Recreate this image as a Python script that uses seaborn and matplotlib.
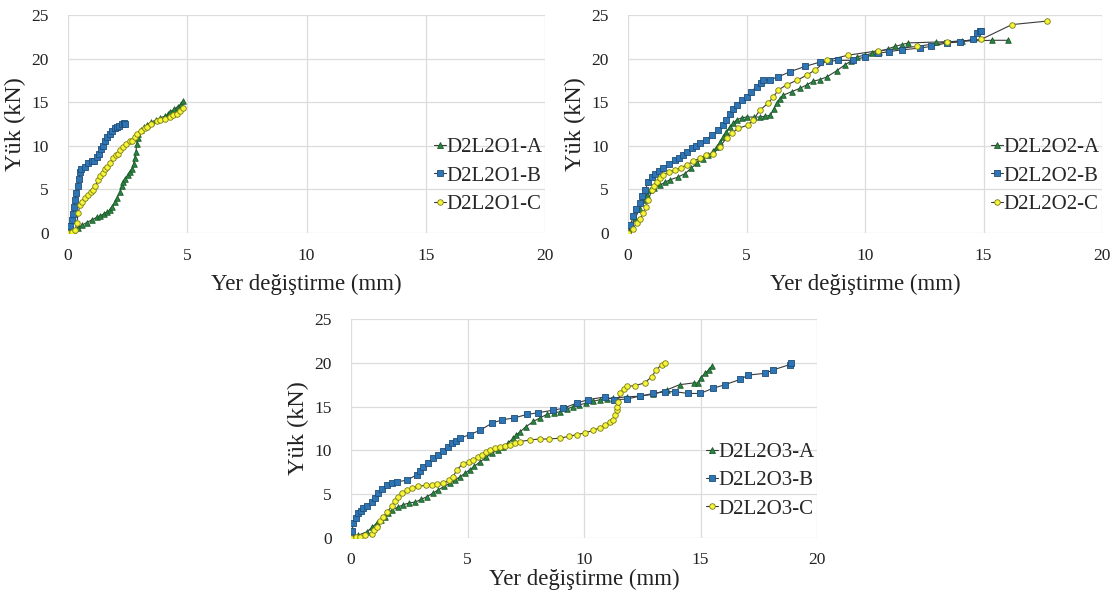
import numpy as np
import pandas as pd
import matplotlib
matplotlib.use("Agg")
import matplotlib.pyplot as plt
from matplotlib.lines import Line2D
import seaborn as sns

# ---------------- data ----------------
x_ticks = [0, 5, 10, 15, 20]
y_ticks = [0, 5, 10, 15, 20, 25]
x_label = "Yer değiştirme (mm)"
y_label = "Yük (kN)"

labels_1 = ["D2L2O1-A", "D2L2O1-B", "D2L2O1-C"]
labels_2 = ["D2L2O2-A", "D2L2O2-B", "D2L2O2-C"]
labels_3 = ["D2L2O3-A", "D2L2O3-B", "D2L2O3-C"]

A1_x = [0, 0.2, 0.4, 0.6, 0.78, 1.0, 1.2, 1.34, 1.5, 1.65, 1.76, 1.85, 1.97, 2.05, 2.18, 2.25, 2.32, 2.4, 2.5, 2.6, 2.67, 2.75, 2.8, 2.85, 2.88, 2.92, 2.95, 3.05, 3.2, 3.3, 3.5, 3.7, 3.87, 4.05, 4.2, 4.29, 4.45, 4.6, 4.75, 4.84]
A1_y = [0, 0.3, 0.6, 0.9, 1.2, 1.5, 1.8, 1.95, 2.2, 2.45, 2.6, 3.0, 3.5, 4.0, 4.7, 5.4, 5.9, 6.2, 6.6, 7.0, 7.3, 7.9, 8.6, 9.3, 10.2, 10.9, 11.4, 11.8, 12.1, 12.4, 12.7, 13.0, 13.2, 13.4, 13.6, 13.9, 14.2, 14.5, 14.8, 15.1]
B1_x = [0, 0.05, 0.1, 0.15, 0.2, 0.25, 0.3, 0.35, 0.4, 0.45, 0.5, 0.55, 0.7, 0.85, 1.0, 1.1, 1.2, 1.3, 1.4, 1.45, 1.55, 1.65, 1.75, 1.85, 1.95, 2.05, 2.15, 2.25, 2.35, 2.4]
B1_y = [0, 0.3, 0.8, 1.5, 2.2, 3.0, 3.8, 4.6, 5.4, 6.2, 7.0, 7.3, 7.6, 8.0, 8.2, 8.3, 8.7, 9.1, 9.6, 10.0, 10.5, 11.0, 11.3, 11.7, 12.0, 12.2, 12.3, 12.5, 12.6, 12.5]
C1_x = [0, 0.15, 0.3, 0.37, 0.43, 0.5, 0.57, 0.7, 0.85, 0.95, 1.06, 1.15, 1.27, 1.34, 1.45, 1.55, 1.63, 1.76, 1.9, 2.0, 2.1, 2.18, 2.3, 2.45, 2.6, 2.67, 2.8, 2.9, 3.05, 3.23, 3.3, 3.5, 3.72, 3.87, 4.05, 4.29, 4.4, 4.55, 4.7, 4.84]
C1_y = [0, 0.1, 0.3, 1.2, 2.3, 3.2, 3.6, 4.0, 4.4, 4.7, 4.9, 5.4, 6.1, 6.5, 6.9, 7.3, 7.6, 8.0, 8.6, 8.9, 9.1, 9.5, 9.9, 10.2, 10.5, 10.6, 11.0, 11.4, 11.7, 12.0, 12.2, 12.5, 12.8, 13.0, 13.1, 13.3, 13.5, 13.7, 14.0, 14.3]

A2_x = [0, 0.15, 0.3, 0.5, 0.65, 0.8, 0.93, 1.1, 1.35, 1.55, 1.77, 2.1, 2.4, 2.65, 2.9, 3.15, 3.39, 3.6, 3.74, 3.9, 4.02, 4.15, 4.3, 4.45, 4.59, 4.8, 5.0, 5.3, 5.57, 5.8, 6.0, 6.15, 6.27, 6.4, 6.55, 6.9, 7.26, 7.55, 7.82, 8.1, 8.39, 8.8, 9.16, 9.4, 9.66, 10.0, 10.3, 10.6, 10.95, 11.27, 11.55, 11.83, 13.0, 14.1, 15.35, 16.05]
A2_y = [0, 0.8, 1.7, 2.8, 3.8, 4.4, 4.9, 5.2, 5.5, 5.8, 6.1, 6.4, 6.8, 7.4, 8.0, 8.5, 8.9, 9.4, 9.9, 10.4, 11.0, 11.6, 12.2, 12.6, 13.0, 13.2, 13.3, 13.3, 13.3, 13.4, 13.5, 14.2, 14.9, 15.4, 15.8, 16.2, 16.6, 17.0, 17.4, 17.6, 17.9, 18.6, 19.3, 19.7, 20.2, 20.4, 20.6, 20.8, 21.1, 21.4, 21.6, 21.8, 21.9, 22.0, 22.1, 22.1]
B2_x = [0, 0.1, 0.22, 0.35, 0.5, 0.6, 0.72, 0.86, 1.0, 1.14, 1.3, 1.49, 1.75, 1.98, 2.15, 2.33, 2.5, 2.69, 2.85, 3.04, 3.3, 3.53, 3.8, 4.02, 4.15, 4.3, 4.45, 4.59, 4.8, 5.0, 5.2, 5.43, 5.6, 5.71, 6.0, 6.34, 6.84, 7.47, 8.1, 8.5, 8.87, 9.5, 10.0, 10.56, 11.0, 11.55, 12.3, 12.8, 13.45, 14.0, 14.57, 14.71, 14.85, 14.9]
B2_y = [0, 0.9, 1.9, 2.7, 3.4, 4.2, 4.9, 5.9, 6.4, 6.8, 7.1, 7.4, 7.9, 8.4, 8.6, 8.9, 9.3, 9.7, 10.0, 10.3, 10.7, 11.2, 11.8, 12.4, 13.0, 13.7, 14.2, 14.7, 15.2, 15.6, 16.2, 16.8, 17.2, 17.5, 17.6, 17.9, 18.5, 19.1, 19.6, 19.7, 19.8, 19.8, 20.2, 20.6, 20.8, 21.0, 21.2, 21.4, 21.8, 21.9, 22.2, 22.9, 23.2, 23.2]
C2_x = [0, 0.2, 0.37, 0.5, 0.65, 0.75, 0.86, 1.0, 1.1, 1.21, 1.35, 1.49, 1.75, 1.98, 2.25, 2.48, 2.75, 3.04, 3.3, 3.6, 3.88, 4.16, 4.4, 4.65, 5.08, 5.29, 5.57, 5.92, 6.13, 6.34, 6.7, 7.12, 7.54, 7.9, 8.39, 9.3, 10.56, 12.2, 13.45, 14.9, 16.2, 17.67]
C2_y = [0, 0.5, 1.1, 1.6, 2.3, 3.0, 3.8, 4.9, 5.4, 5.9, 6.3, 6.7, 7.0, 7.2, 7.5, 7.8, 8.2, 8.6, 8.9, 9.1, 9.9, 10.9, 11.5, 12.0, 12.4, 13.0, 14.1, 14.9, 15.6, 16.4, 17.0, 17.5, 18.1, 18.7, 19.8, 20.4, 20.9, 21.4, 21.9, 22.2, 23.9, 24.3]

A3_x = [0, 0.3, 0.67, 0.9, 1.1, 1.3, 1.46, 1.6, 1.75, 2.0, 2.24, 2.5, 2.75, 3.0, 3.25, 3.5, 3.75, 4.0, 4.25, 4.45, 4.68, 4.9, 5.1, 5.3, 5.54, 5.8, 6.04, 6.3, 6.54, 6.75, 6.97, 7.1, 7.25, 7.5, 7.83, 8.1, 8.4, 8.7, 8.97, 9.25, 9.54, 9.8, 10.1, 10.4, 10.7, 11.0, 11.26, 11.83, 12.4, 12.97, 13.55, 14.1, 14.7, 14.9, 15.0, 15.2, 15.35, 15.48]
A3_y = [0, 0.3, 0.7, 1.2, 1.7, 2.0, 2.4, 2.8, 3.2, 3.5, 3.8, 4.0, 4.1, 4.4, 4.7, 5.1, 5.5, 5.9, 6.25, 6.6, 7.0, 7.4, 7.8, 8.2, 8.7, 9.2, 9.7, 10.0, 10.4, 10.9, 11.4, 11.8, 12.1, 12.7, 13.3, 13.7, 14.1, 14.3, 14.4, 14.7, 15.0, 15.2, 15.4, 15.6, 15.8, 15.9, 16.0, 16.1, 16.2, 16.4, 16.9, 17.5, 17.7, 17.7, 18.3, 18.8, 19.2, 19.6]
B3_x = [0, 0.05, 0.1, 0.2, 0.31, 0.42, 0.53, 0.7, 0.89, 1.03, 1.17, 1.35, 1.53, 1.75, 1.96, 2.39, 2.82, 2.95, 3.1, 3.3, 3.53, 3.75, 3.96, 4.15, 4.32, 4.5, 4.68, 5.1, 5.54, 6.04, 6.5, 7.0, 7.54, 8.04, 8.68, 9.1, 9.69, 10.18, 10.9, 11.3, 11.83, 12.4, 12.97, 13.48, 13.9, 14.48, 14.98, 15.55, 16.05, 16.7, 17.05, 17.77, 18.13, 18.84, 18.9]
B3_y = [0, 0.8, 1.7, 2.3, 2.8, 3.1, 3.4, 3.7, 4.1, 4.6, 5.1, 5.6, 6.1, 6.3, 6.4, 6.6, 7.2, 7.6, 8.1, 8.6, 9.1, 9.5, 9.9, 10.4, 10.8, 11.1, 11.4, 11.8, 12.3, 13.1, 13.5, 13.7, 14.1, 14.3, 14.6, 14.8, 15.4, 15.8, 16.1, 15.8, 15.85, 16.2, 16.5, 16.7, 16.7, 16.5, 16.5, 17.1, 17.5, 18.1, 18.6, 18.8, 19.2, 19.8, 20.0]
C3_x = [0, 0.2, 0.39, 0.6, 0.89, 1.0, 1.1, 1.25, 1.39, 1.55, 1.75, 1.9, 2.03, 2.2, 2.39, 2.6, 2.89, 3.2, 3.46, 3.7, 3.96, 4.2, 4.39, 4.54, 4.82, 5.05, 5.25, 5.45, 5.61, 5.8, 5.97, 6.2, 6.4, 6.6, 6.82, 7.05, 7.25, 7.7, 8.1, 8.5, 8.97, 9.35, 9.69, 10.05, 10.4, 10.7, 10.9, 11.1, 11.26, 11.35, 11.4, 11.42, 11.45, 11.55, 11.7, 11.83, 12.2, 12.6, 12.9, 13.1, 13.33, 13.48]
C3_y = [0, 0.1, 0.15, 0.3, 0.5, 0.9, 1.3, 1.9, 2.4, 3.0, 3.6, 4.2, 4.7, 5.1, 5.5, 5.7, 5.9, 6.0, 6.1, 6.2, 6.25, 6.6, 7.0, 7.8, 8.5, 8.7, 8.9, 9.2, 9.5, 9.8, 10.1, 10.3, 10.4, 10.5, 10.6, 10.8, 11.0, 11.2, 11.3, 11.3, 11.4, 11.6, 11.8, 12.0, 12.3, 12.6, 12.9, 13.2, 13.5, 14.0, 14.6, 15.0, 15.5, 16.5, 17.0, 17.3, 17.4, 17.7, 18.4, 19.2, 19.8, 20.0]

# ---------------- style ----------------
sns.set_theme(style="white")
plt.rcParams["font.family"] = ["Liberation Serif", "DejaVu Serif"]

styles = [
    dict(marker="^", face="#2A8540", edge="#1B5A2A"),
    dict(marker="s", face="#2E75B6", edge="#1F4E79"),
    dict(marker="o", face="#F5F53A", edge="#7A7A10"),
]
line_color = "#3A3A3A"
grid_color = "#DCDCDC"

fig = plt.figure(figsize=(11.16, 5.99), dpi=100)
W, H = 1116, 599


def make_axes(left, right, top, bottom):
    return fig.add_axes([left / W, 1 - bottom / H, (right - left) / W, (bottom - top) / H])


ax1 = make_axes(68, 545, 15, 233)
ax2 = make_axes(628, 1102, 15, 233)
ax3 = make_axes(351, 817, 319, 538)

panels = [
    (ax1, [(A1_x, A1_y), (B1_x, B1_y), (C1_x, C1_y)], labels_1, 11, 7),
    (ax2, [(A2_x, A2_y), (B2_x, B2_y), (C2_x, C2_y)], labels_2, 11, 7),
    (ax3, [(A3_x, A3_y), (B3_x, B3_y), (C3_x, C3_y)], labels_3, 10, 1),
]

for ax, series, labels, xpad, xlabpad in panels:
    handles = []
    for (xs, ys), lab, st in zip(series, labels, styles):
        df = pd.DataFrame({"x": xs, "y": ys})
        sns.lineplot(data=df, x="x", y="y", sort=False, estimator=None, ax=ax,
                     color=line_color, linewidth=0.8, zorder=3)
        sns.scatterplot(data=df, x="x", y="y", ax=ax, marker=st["marker"], s=16,
                        color=st["face"], edgecolor=st["edge"], linewidth=0.6, zorder=4)
        handles.append(Line2D([0], [0], color=line_color, lw=0.8, marker=st["marker"],
                              markersize=4, markerfacecolor=st["face"],
                              markeredgecolor=st["edge"], markeredgewidth=0.6, label=lab))
    ax.set_xlim(0, 20)
    ax.set_ylim(0, 25)
    ax.set_xticks(x_ticks)
    ax.set_yticks(y_ticks)
    ax.grid(True, color=grid_color, linewidth=0.9)
    ax.set_axisbelow(True)
    for sp in ax.spines.values():
        sp.set_visible(False)
    ax.tick_params(axis="both", length=0, labelsize=12.5, colors="#222222")
    ax.tick_params(axis="y", pad=14)
    ax.tick_params(axis="x", pad=xpad)
    ax.set_xlabel(x_label, fontsize=16.5, labelpad=xlabpad, color="#222222")
    ax.set_ylabel(y_label, fontsize=17.5, labelpad=4, color="#222222")
    ax.legend(handles=handles, loc="center right", bbox_to_anchor=(1.0, 0.262),
              frameon=False, fontsize=15, handlelength=0.55, handletextpad=0.05,
              labelspacing=0.42, borderaxespad=0, borderpad=0.1)

fig.savefig("out.png", dpi=100)
